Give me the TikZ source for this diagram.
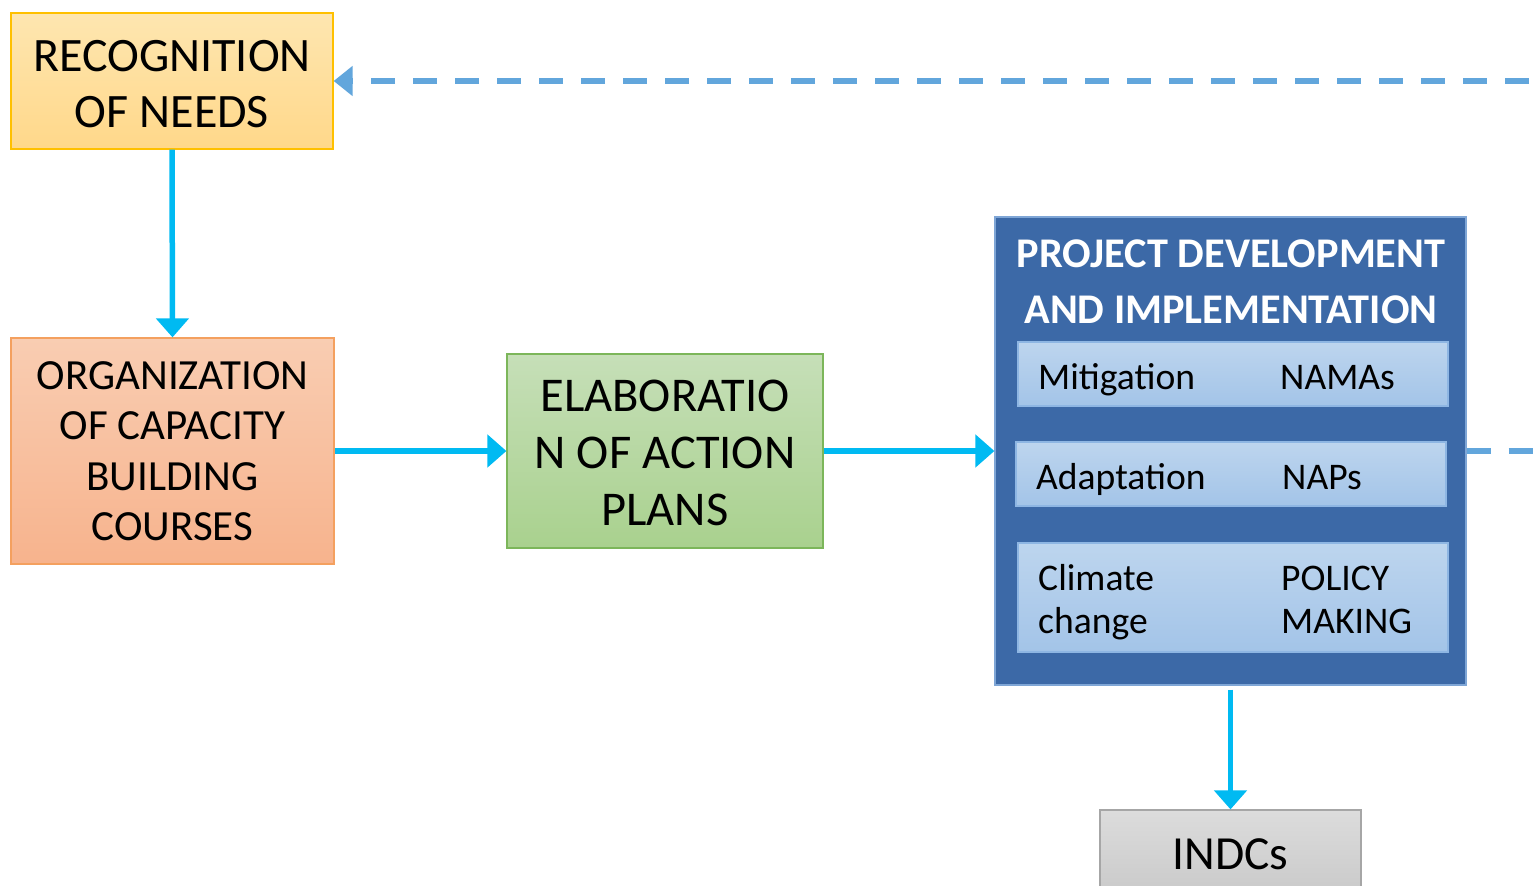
\documentclass[tikz,border=0pt]{standalone}
\usepackage{fontspec}
\setmainfont{Carlito}
\usetikzlibrary{arrows.meta}
\definecolor{recA}{HTML}{FEE6B0}
\definecolor{recB}{HTML}{FFD88A}
\definecolor{recD}{HTML}{FFC000}
\definecolor{orgA}{HTML}{F9CDB2}
\definecolor{orgB}{HTML}{F7B38D}
\definecolor{orgD}{HTML}{F4A05F}
\definecolor{elaA}{HTML}{C6DFB8}
\definecolor{elaB}{HTML}{A9D18E}
\definecolor{elaD}{HTML}{7CB65A}
\definecolor{projF}{HTML}{3C69A7}
\definecolor{projD}{HTML}{7FA6D6}
\definecolor{inA}{HTML}{BDD5EE}
\definecolor{inB}{HTML}{A3C4E8}
\definecolor{inD}{HTML}{8EB6E3}
\definecolor{indA}{HTML}{DCDCDC}
\definecolor{indB}{HTML}{C9C9C9}
\definecolor{indD}{HTML}{A6A6A6}
\definecolor{flowc}{HTML}{00BAF2}
\definecolor{dashc}{HTML}{62A6DC}
\begin{document}
\begin{tikzpicture}[x=1pt,y=-1pt,
  box/.style={draw, line width=1.2pt, inner sep=0pt, align=center, text=black},
  inbox/.style={draw=inD, line width=1.2pt, inner sep=0pt, top color=inA, bottom color=inB, minimum width=430pt},
  lbl/.style={anchor=base west, inner sep=0pt, align=left, text=black, font=\fontsize{37.6}{43}\selectfont},
  flow/.style={draw=flowc, line width=5.5pt, -{Triangle[length=19pt,width=32pt]}},
  dashflow/.style={draw=dashc, line width=6pt, dash pattern=on 24pt off 18pt, -{Triangle[length=19pt,width=29pt]}},
  dashline/.style={draw=dashc, line width=6pt, dash pattern=on 24pt off 18pt}]
\useasboundingbox (0,0) rectangle (1534,886);

\node[box, draw=recD, top color=recA, bottom color=recB, minimum width=322pt, minimum height=136pt,
  font=\fontsize{48}{56}\selectfont] (rec) at (172,81) {RECOGNITION\rule{0pt}{37pt}\\OF NEEDS};
\node[box, draw=orgD, top color=orgA, bottom color=orgB, minimum width=323pt, minimum height=226pt,
  font=\fontsize{43}{50.5}\selectfont] (org) at (172.5,451) {ORGANIZATION\\OF CAPACITY\\BUILDING\\COURSES};
\node[box, draw=elaD, top color=elaA, bottom color=elaB, minimum width=316pt, minimum height=194pt,
  font=\fontsize{48.5}{57}\selectfont] (ela) at (665,451) {ELABORATIO\rule{0pt}{35pt}\\N OF ACTION\\PLANS};
\node[box, draw=projD, fill=projF, minimum width=471pt, minimum height=468pt] (proj) at (1230.5,451) {};
\node[anchor=base, inner sep=0pt, align=center, text=white, font=\fontsize{42.3}{56}\selectfont\bfseries] (title) at (1231,323) {PROJECT DEVELOPMENT\\AND IMPLEMENTATION};

\node[inbox, minimum height=64pt] (mit) at (1233,374) {};
\node[inbox, minimum height=64pt] (ada) at (1231,474) {};
\node[inbox, minimum height=109pt] (cli) at (1233,597.5) {};
\node[lbl] (mitl) at (1038,389) {Mitigation};
\node[lbl] (mitr) at (1280,389) {NAMAs};
\node[lbl] (adal) at (1036,489) {Adaptation};
\node[lbl] (adar) at (1282,489) {NAPs};
\node[lbl] (clil) at (1038,633) {Climate\\change};
\node[lbl] (clir) at (1281,633) {POLICY\\MAKING};

\node[box, draw=indD, top color=indA, bottom color=indB, minimum width=261pt, minimum height=88pt,
  font=\fontsize{47.5}{56}\selectfont] (indc) at (1230.5,854) {INDCs};

\draw[flow] (rec.south) -- (org.north);
\draw[flow] (org.east) -- (ela.west);
\draw[flow] (ela.east) -- (proj.west);
\draw[flow] ([yshift=-4pt]proj.south) -- (indc.north);

\coordinate (rin) at (1571,81);
\coordinate (rout) at (1545,451);
\draw[dashflow] (rin) -- (rec.east);
\draw[dashline] (proj.east) -- (rout);
\end{tikzpicture}
\end{document}
